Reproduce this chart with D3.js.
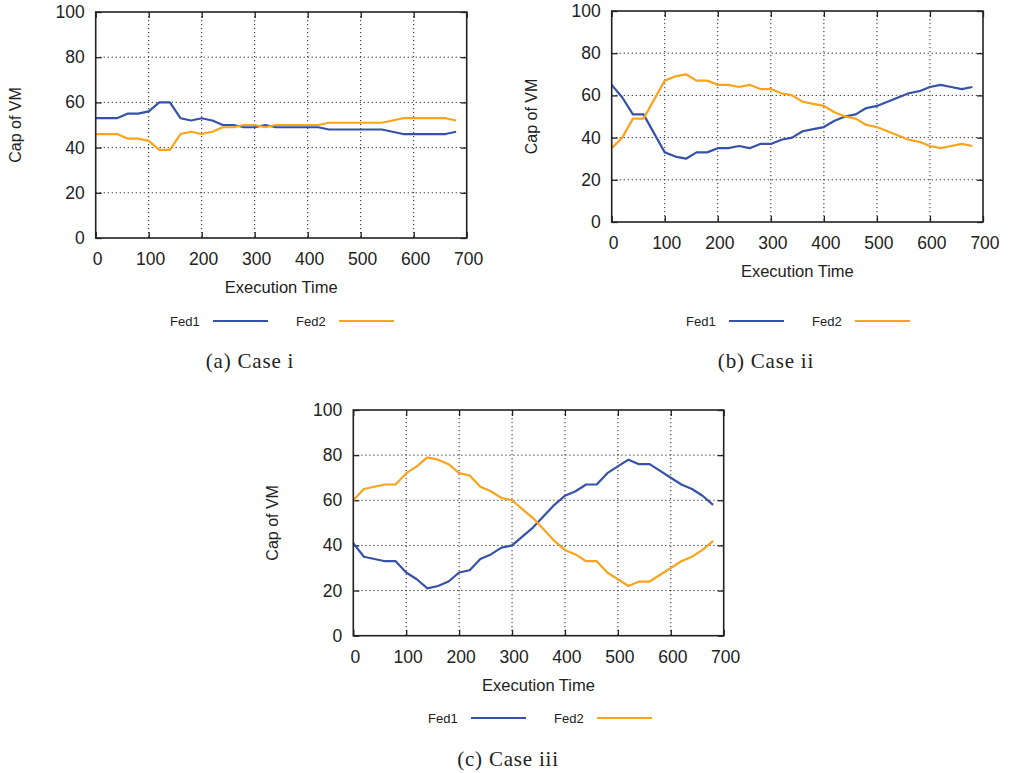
<!DOCTYPE html>
<html>
<head>
<meta charset="utf-8">
<script src="https://cdn.jsdelivr.net/npm/d3@7"></script>
<style>
  body { margin: 0; background: #fff; }
  svg text { font-family: "Liberation Sans", Arial, sans-serif; fill: #222; }
  .caption { font-family: "Liberation Serif", "Times New Roman", serif; }
</style>
</head>
<body>
<svg id="fig" width="1010" height="773"></svg>
<script>
// time steps (every 20 units)
const times = d3.range(0, 700, 20);

// Case i
const fed1A = [53,53,53,55,55,56,60,60,53,52,53,52,50,50,49,49,50,49,49,49,49,49,48,48,48,48,48,48,47,46,46,46,46,46,47];
const fed2A = [46,46,46,44,44,43,39,39,46,47,46,47,49,49,50,50,49,50,50,50,50,50,51,51,51,51,51,51,52,53,53,53,53,53,52];
// Case ii
const fed1B = [65,59,51,51,42,33,31,30,33,33,35,35,36,35,37,37,39,40,43,44,45,48,50,51,54,55,57,59,61,62,64,65,64,63,64];
const fed2B = [35,40,49,49,58,67,69,70,67,67,65,65,64,65,63,63,61,60,57,56,55,52,50,49,46,45,43,41,39,38,36,35,36,37,36];
// Case iii
const fed1C = [41,35,34,33,33,28,25,21,22,24,28,29,34,36,39,40,44,48,53,58,62,64,67,67,72,75,78,76,76,73,70,67,65,62,58];
const fed2C = [60,65,66,67,67,72,75,79,78,76,72,71,66,64,61,60,56,52,47,42,38,36,33,33,28,25,22,24,24,27,30,33,35,38,42];

const xTicks = [0,100,200,300,400,500,600,700];
const yTicks = [0,20,40,60,80,100];
const seriesNames = ["Fed1", "Fed2"];
const colors = ["#3552a8", "#f9a41c"];

const svg = d3.select("#fig");

function drawPanel(p) {
  const g = svg.append("g");
  const x = d3.scaleLinear().domain([0, 700]).range([p.left, p.right]);
  const y = d3.scaleLinear().domain([0, 100]).range([p.bottom, p.top]);

  // grid
  g.selectAll(".vg").data(xTicks.slice(1, -1)).enter().append("line")
    .attr("x1", d => x(d)).attr("x2", d => x(d))
    .attr("y1", p.top).attr("y2", p.bottom)
    .attr("stroke", "#222").attr("stroke-width", 1).attr("stroke-dasharray", "1.2,2.8");
  g.selectAll(".hg").data(yTicks.slice(1, -1)).enter().append("line")
    .attr("x1", p.left).attr("x2", p.right)
    .attr("y1", d => y(d)).attr("y2", d => y(d))
    .attr("stroke", "#222").attr("stroke-width", 1).attr("stroke-dasharray", "1.2,2.8");

  // inward ticks on all sides
  const tl = 6;
  g.append("g").attr("transform", `translate(0,${p.bottom})`)
    .call(d3.axisTop(x).tickValues(xTicks).tickSize(tl).tickFormat(""))
    .call(a => a.select(".domain").remove());
  g.append("g").attr("transform", `translate(0,${p.top})`)
    .call(d3.axisBottom(x).tickValues(xTicks).tickSize(tl).tickFormat(""))
    .call(a => a.select(".domain").remove());
  g.append("g").attr("transform", `translate(${p.left},0)`)
    .call(d3.axisRight(y).tickValues(yTicks).tickSize(tl).tickFormat(""))
    .call(a => a.select(".domain").remove());
  g.append("g").attr("transform", `translate(${p.right},0)`)
    .call(d3.axisLeft(y).tickValues(yTicks).tickSize(tl).tickFormat(""))
    .call(a => a.select(".domain").remove());
  g.selectAll(".tick line").attr("stroke", "#222").attr("stroke-width", 1.3);

  // tick labels
  g.selectAll(".xl").data(xTicks).enter().append("text")
    .attr("x", d => x(d) + 2).attr("y", p.bottom + 27)
    .attr("text-anchor", "middle").attr("font-size", 17.5).text(d => d);
  g.selectAll(".yl").data(yTicks).enter().append("text")
    .attr("x", p.left - 11).attr("y", d => y(d) + 6)
    .attr("text-anchor", "end").attr("font-size", 17.5).text(d => d);

  // lines
  const line = d3.line().x((d, i) => x(times[i])).y(d => y(d));
  p.series.forEach((s, k) => {
    g.append("path").datum(s).attr("d", line)
      .attr("fill", "none").attr("stroke", colors[k]).attr("stroke-width", 2.2)
      .attr("stroke-linejoin", "round");
  });

  // frame
  g.append("rect").attr("x", p.left).attr("y", p.top)
    .attr("width", p.right - p.left).attr("height", p.bottom - p.top)
    .attr("fill", "none").attr("stroke", "#222").attr("stroke-width", 1.6);

  // axis titles
  const cx = (p.left + p.right) / 2, cy = (p.top + p.bottom) / 2;
  g.append("text").attr("x", cx).attr("y", p.bottom + 55)
    .attr("text-anchor", "middle").attr("font-size", 16.5).text("Execution Time");
  g.append("text").attr("transform", `translate(${p.left - 75},${cy}) rotate(-90)`)
    .attr("text-anchor", "middle").attr("font-size", 16).text("Cap of VM");

  // legend
  seriesNames.forEach((n, k) => {
    const lx = p.legendX + k * 126;
    g.append("text").attr("x", lx).attr("y", p.legendY + 5)
      .attr("font-size", 13).text(n);
    g.append("line").attr("x1", lx + 43).attr("x2", lx + 98)
      .attr("y1", p.legendY).attr("y2", p.legendY)
      .attr("stroke", colors[k]).attr("stroke-width", 2.2);
  });

  // caption
  g.append("text").attr("class", "caption").attr("x", p.captionX).attr("y", p.captionY)
    .attr("text-anchor", "middle").attr("font-size", 21)
    .attr("letter-spacing", 0.8).text(p.caption);
}

drawPanel({ left: 95.7, right: 466.7, top: 12, bottom: 238,
  series: [fed1A, fed2A], legendX: 170, legendY: 321,
  caption: "(a)  Case i", captionX: 250, captionY: 368 });
drawPanel({ left: 611.7, right: 983, top: 11, bottom: 222,
  series: [fed1B, fed2B], legendX: 686, legendY: 321,
  caption: "(b)  Case ii", captionX: 766, captionY: 368 });
drawPanel({ left: 353.3, right: 723.7, top: 410, bottom: 635.7,
  series: [fed1C, fed2C], legendX: 428, legendY: 718,
  caption: "(c)  Case iii", captionX: 508, captionY: 766 });
</script>
</body>
</html>
